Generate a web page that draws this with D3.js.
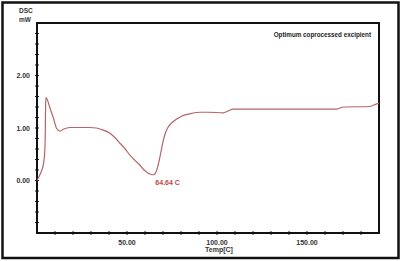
<!DOCTYPE html>
<html>
<head>
<meta charset="utf-8">
<script src="https://cdn.jsdelivr.net/npm/d3@7"></script>
<style>
  body { margin: 0; background: #fff; }
  svg { display: block; font-family: "Liberation Sans", Arial, sans-serif; }
</style>
</head>
<body>
<div id="chart"></div>
<script>
// DSC curve
var temp = [0, 1.5, 2.6, 3.6, 4.3, 4.6, 4.7, 4.8, 5.0, 7.2, 9.1, 10.9, 12.8, 14.6, 18.3, 29.4,
  33, 36, 40.6, 43.5, 46.1, 49, 51.7, 54.5, 57.2, 59.5, 61.8, 63.5, 64.64, 65.8, 67, 68.3,
  69.3, 70.2, 71.5, 72.9, 75, 77.6, 80, 85, 90.6, 95, 103.5, 106, 109,
  166.5, 170.2, 185, 188.7, 190];
var dsc = [0.0, 0.1, 0.19, 0.32, 0.55, 0.9, 1.2, 1.45, 1.58, 1.38, 1.19, 0.99, 0.94, 0.975, 1.01, 1.01,
  1.0, 0.97, 0.9, 0.81, 0.71, 0.6, 0.48, 0.38, 0.29, 0.2, 0.14, 0.115, 0.11, 0.14, 0.25, 0.45,
  0.62, 0.77, 0.92, 1.02, 1.1, 1.17, 1.22, 1.27, 1.3, 1.3, 1.29, 1.32, 1.36,
  1.36, 1.40, 1.41, 1.46, 1.47];
var xLabels = [50, 100, 150];
var yLabels = [0, 1, 2];
var peakTemp = 64.64;
var title = "Optimum coprocessed excipient";

var svgWidth = 401, svgHeight = 261;
var margin = { top: 23, right: 22, bottom: 28, left: 37 };
var width = svgWidth - margin.left - margin.right;
var height = svgHeight - margin.top - margin.bottom;

var svg = d3.select("#chart").append("svg")
  .attr("width", svgWidth)
  .attr("height", svgHeight);

// outer frame
svg.append("rect")
  .attr("x", 2.5).attr("y", 2.5)
  .attr("width", 396).attr("height", 255.5)
  .attr("fill", "none").attr("stroke", "#111").attr("stroke-width", 2.5);

var g = svg.append("g")
  .attr("transform", "translate(" + margin.left + "," + margin.top + ")");

var x = d3.scaleLinear().domain([0, 190]).range([0, width]);
var y = d3.scaleLinear().domain([-1, 3]).range([height, 0]);

// minor ticks
var xTicks = d3.range(10, 190, 10);
var yTicks = d3.range(-0.8, 3.0, 0.2);

g.append("g").selectAll("line").data(xTicks).enter().append("line")
  .attr("x1", function (d) { return x(d); })
  .attr("x2", function (d) { return x(d); })
  .attr("y1", height - 2).attr("y2", height + 2)
  .attr("stroke", "#222").attr("stroke-width", 1);

g.append("g").selectAll("line").data(yTicks).enter().append("line")
  .attr("x1", -2).attr("x2", 2)
  .attr("y1", function (d) { return y(d); })
  .attr("y2", function (d) { return y(d); })
  .attr("stroke", "#222").attr("stroke-width", 1);

// plot frame
g.append("rect")
  .attr("width", width).attr("height", height)
  .attr("fill", "none").attr("stroke", "#111").attr("stroke-width", 2);

// tick labels
g.append("g").selectAll("text").data(xLabels).enter().append("text")
  .attr("x", function (d) { return x(d); })
  .attr("y", height + 12)
  .attr("text-anchor", "middle")
  .attr("font-size", 7).attr("font-weight", "bold").attr("fill", "#333")
  .text(function (d) { return d.toFixed(2); });

g.append("g").selectAll("text").data(yLabels).enter().append("text")
  .attr("x", -7)
  .attr("y", function (d) { return y(d) + 2.5; })
  .attr("text-anchor", "end")
  .attr("font-size", 7).attr("font-weight", "bold").attr("fill", "#333")
  .text(function (d) { return d.toFixed(2); });

// axis titles
svg.append("text").attr("x", 19).attr("y", 13)
  .attr("font-size", 6.5).attr("font-weight", "bold").attr("fill", "#333").text("DSC");
svg.append("text").attr("x", 19).attr("y", 21.5)
  .attr("font-size", 6.5).attr("font-weight", "bold").attr("fill", "#333").text("mW");
svg.append("text").attr("x", 219).attr("y", 252)
  .attr("text-anchor", "middle")
  .attr("font-size", 7).attr("font-weight", "bold").attr("fill", "#333").text("Temp[C]");

svg.append("text").attr("x", 371).attr("y", 37)
  .attr("text-anchor", "end")
  .attr("font-size", 6.3).attr("font-weight", "bold").attr("fill", "#222").text(title);

// curve
var line = d3.line()
  .x(function (d, i) { return x(temp[i]); })
  .y(function (d, i) { return y(dsc[i]); })
  .curve(d3.curveMonotoneX);

g.append("path")
  .datum(temp)
  .attr("fill", "none")
  .attr("stroke", "#b56565")
  .attr("stroke-width", 1.2)
  .attr("d", line);

// peak label
g.append("text")
  .attr("x", x(peakTemp) + 2)
  .attr("y", y(0.11) + 10)
  .attr("font-size", 7).attr("font-weight", "bold").attr("fill", "#c04848")
  .text(peakTemp.toFixed(2) + " C");
</script>
</body>
</html>
